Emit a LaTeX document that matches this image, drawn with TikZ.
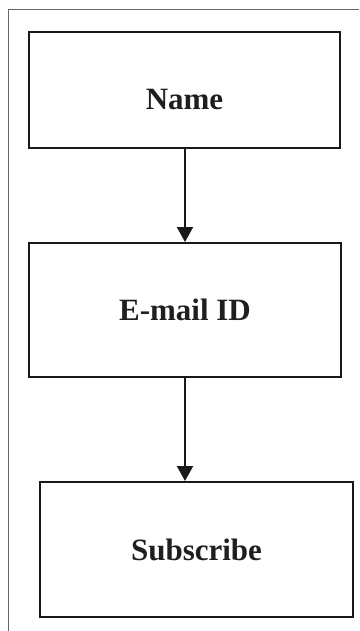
\documentclass[tikz,border=0pt]{standalone}
\usepackage{fontspec}
\setmainfont{Liberation Serif}
\usetikzlibrary{arrows.meta}
\begin{document}
\begin{tikzpicture}[x=1pt,y=-1pt,
  box/.style={draw=black!90,line width=2pt,inner sep=0pt,font=\fontsize{31}{36}\selectfont\bfseries,text=black!88},
  conn/.style={draw=black!90,line width=2pt,-{Triangle[width=16pt,length=15pt]}},
  frame/.style={draw=black!60,line width=1pt}]
\useasboundingbox (0,0) rectangle (359,631);
\coordinate (fb) at (8,631);
\coordinate (fc) at (8,10);
\coordinate (fr) at (359,10);
\draw[frame] (fb) -- (fc) -- (fr);
\node[box,minimum width=311pt,minimum height=116pt] (name) at (184.5,90) {\raisebox{-10pt}[\height][\depth]{Name}};
\node[box,minimum width=312pt,minimum height=134pt] (email) at (185,310) {E-mail ID};
\node[box,minimum width=313pt,minimum height=135pt] (sub) at (196.5,549.5) {Subscribe};
\draw[conn] (name.south -| 185,0) -- (email.north -| 185,0);
\draw[conn] (email.south -| 185,0) -- (sub.north -| 185,0);
\end{tikzpicture}
\end{document}
